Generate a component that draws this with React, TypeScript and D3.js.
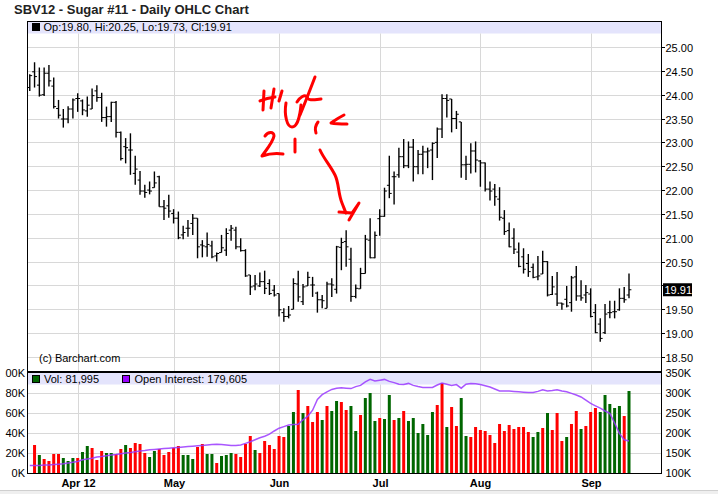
import React, { useEffect, useRef } from 'react';
import * as d3 from 'd3';

// Daily OHLC, SBV12 (Mar 19 - Sep 14, 2012), one entry per trading day
const opens = [
  24.15, 24.48, 24.20, 24.00, 24.45, 24.18, 23.71, 23.49, 23.49, 23.70,
  23.92, 23.87, 23.66, 23.70, 24.08, 23.94, 23.52, 23.54, 23.84, 23.21,
  22.91, 22.84, 22.35, 22.21, 21.98, 22.00, 22.05, 22.28, 21.65, 21.67,
  21.51, 21.41, 21.06, 21.20, 21.30, 21.41, 20.85, 20.81, 20.83, 20.62,
  20.69, 20.74, 21.16, 21.16, 20.81, 20.73, 20.22, 19.99, 19.99, 20.08,
  20.04, 19.90, 19.83, 19.43, 19.35, 19.50, 20.03, 19.66, 19.99, 20.01,
  19.84, 19.70, 19.52, 20.03, 19.92, 20.80, 20.92, 20.55, 19.77, 19.93,
  20.25, 20.95, 20.58, 21.40, 21.45, 22.10, 22.28, 22.32, 22.70, 22.51,
  22.90, 22.49, 22.75, 22.80, 22.84, 23.00, 23.28, 23.92, 23.91, 23.50,
  23.43, 22.53, 22.54, 22.82, 22.61, 22.57, 22.02, 22.02, 21.81, 21.41,
  21.15, 20.99, 20.70, 20.60, 20.46, 20.38, 20.18, 20.24, 20.50, 19.81,
  19.82, 19.63, 19.71, 19.64, 20.18, 19.78, 19.80, 19.82, 19.43, 19.19,
  19.01, 19.43, 19.45, 19.49, 19.73, 19.80,
];
const highs = [
  24.43, 24.68, 24.57, 24.57, 24.62, 24.36, 23.89, 23.70, 23.76, 23.92,
  24.03, 23.90, 23.96, 24.13, 24.20, 24.04, 23.75, 23.85, 23.87, 23.23,
  23.09, 23.19, 22.72, 22.40, 22.11, 22.18, 22.39, 22.30, 21.79, 21.90,
  21.60, 21.55, 21.25, 21.37, 21.50, 21.41, 20.95, 21.11, 20.94, 20.69,
  21.06, 21.20, 21.27, 21.23, 20.99, 20.76, 20.22, 20.22, 20.27, 20.31,
  20.13, 20.01, 19.83, 19.52, 19.57, 20.15, 20.31, 20.03, 20.29, 20.18,
  19.87, 19.80, 20.08, 20.15, 20.83, 21.00, 21.16, 20.79, 20.02, 20.37,
  21.06, 21.41, 21.13, 21.60, 22.05, 22.72, 22.39, 22.89, 23.07, 23.02,
  23.07, 22.84, 22.93, 22.89, 23.00, 23.31, 24.01, 24.01, 23.91, 23.66,
  23.43, 22.72, 22.98, 23.02, 22.63, 22.58, 22.18, 22.13, 22.06, 21.58,
  21.32, 21.20, 20.90, 20.78, 20.66, 20.46, 20.62, 20.73, 20.51, 20.20,
  20.28, 19.64, 19.99, 20.20, 20.41, 20.11, 20.01, 19.94, 19.61, 19.31,
  19.61, 19.68, 19.68, 19.94, 19.97, 20.25,
];
const lows = [
  24.08, 24.15, 23.96, 23.97, 24.17, 23.71, 23.50, 23.31, 23.40, 23.50,
  23.64, 23.57, 23.54, 23.70, 23.85, 23.43, 23.33, 23.43, 23.10, 22.62,
  22.56, 22.32, 22.11, 21.90, 21.84, 21.91, 22.05, 21.65, 21.37, 21.42,
  21.30, 20.97, 20.97, 21.02, 21.06, 20.57, 20.59, 20.60, 20.57, 20.50,
  20.69, 20.62, 20.94, 20.76, 20.71, 20.18, 19.80, 19.90, 19.97, 19.82,
  19.80, 19.77, 19.35, 19.24, 19.31, 19.50, 19.66, 19.59, 19.99, 19.76,
  19.43, 19.52, 19.52, 19.76, 19.83, 20.32, 20.39, 19.66, 19.73, 19.93,
  20.25, 20.57, 20.57, 21.04, 21.44, 21.83, 21.70, 22.26, 22.46, 22.46,
  22.18, 22.33, 22.33, 22.46, 22.21, 22.67, 23.09, 23.52, 23.21, 23.28,
  22.26, 22.21, 22.35, 22.37, 22.07, 21.97, 21.78, 21.67, 21.36, 21.06,
  20.80, 20.66, 20.38, 20.25, 20.18, 20.15, 20.11, 20.24, 19.77, 19.80,
  19.57, 19.49, 19.54, 19.45, 19.68, 19.68, 19.63, 19.33, 19.00, 18.82,
  18.98, 19.31, 19.31, 19.47, 19.64, 19.73,
];
const closes = [
  24.40, 24.38, 23.99, 24.45, 24.29, 23.75, 23.57, 23.49, 23.70, 23.89,
  23.92, 23.68, 23.78, 23.98, 23.94, 23.52, 23.54, 23.84, 23.21, 22.66,
  22.89, 22.84, 22.44, 21.98, 21.95, 21.98, 22.15, 21.65, 21.62, 21.56,
  21.41, 21.00, 21.11, 21.20, 21.41, 20.81, 20.83, 20.86, 20.60, 20.67,
  20.79, 21.09, 21.20, 20.81, 20.73, 20.20, 19.97, 20.03, 20.08, 19.94,
  19.83, 19.80, 19.49, 19.35, 19.38, 20.04, 19.76, 19.97, 20.17, 20.01,
  19.70, 19.68, 20.03, 20.01, 20.81, 20.90, 20.81, 19.77, 19.94, 20.25,
  20.97, 20.58, 21.05, 21.45, 21.98, 21.93, 22.28, 22.70, 22.51, 22.90,
  22.49, 22.75, 22.80, 22.82, 22.98, 23.28, 23.92, 23.88, 23.50, 23.59,
  22.53, 22.54, 22.82, 22.63, 22.57, 22.02, 21.98, 21.86, 21.43, 21.13,
  20.81, 20.76, 20.40, 20.34, 20.29, 20.17, 20.20, 20.50, 19.80, 19.97,
  19.63, 19.61, 19.57, 20.16, 19.78, 19.74, 19.85, 19.35, 19.01, 18.89,
  19.40, 19.43, 19.45, 19.73, 19.70, 19.91,
];

// volume in thousands (first day has no bar), 'u' = green, 'd' = red
const volumes = [
  0, 28, 18, 14, 12, 19, 19, 15, 12, 15,
  15, 21, 27, 25, 13, 22, 20, 20, 19, 24,
  28, 25, 30, 29, 20, 16, 22, 24, 18, 21,
  25, 27, 18, 18, 14, 26, 29, 19, 19, 10,
  17, 18, 20, 19, 16, 29, 37, 23, 20, 32,
  28, 24, 37, 36, 47, 61, 83, 60, 67, 51,
  61, 53, 67, 62, 72, 71, 63, 67, 42, 58,
  75, 80, 52, 55, 54, 78, 53, 55, 62, 52,
  55, 40, 49, 38, 61, 68, 90, 46, 66, 47,
  75, 37, 36, 46, 43, 42, 38, 30, 49, 42,
  48, 44, 46, 46, 41, 36, 41, 45, 60, 43,
  60, 32, 36, 49, 62, 44, 47, 61, 65, 61,
  78, 69, 65, 67, 57, 82,
];
const volDirs = (
  'ddudddduuu' + 'duuddduudd' + 'udddduuddd' + 'dduuudduud' +
  'uuuddddud' + 'ddddduudu' + 'ddduduuddu' + 'uduuuduudu' +
  'duuuuuudd' + 'udduudddddd' + 'ddddddduud' + 'uddduddudd' +
  'duuuuudu'
).split('');

// open interest in thousands
const openInterest = [
  119, 119, 119, 120, 120, 121, 122, 123, 125, 127,
  129, 133, 135, 137, 140, 141, 143, 145, 146, 148,
  150, 151, 153, 155, 156, 158, 159, 160, 161, 162,
  163, 164, 165, 166, 167, 168, 169, 170, 171, 172,
  171, 170, 169, 169, 170, 174, 178, 183, 188, 192,
  197, 205, 212, 216, 220, 221, 222, 233, 242, 257,
  284, 296, 303, 309, 312, 313, 312, 311, 316, 319,
  328, 334, 330, 332, 334, 329, 326, 322, 321, 324,
  319, 316, 314, 314, 314, 320, 325, 322, 319, 321,
  312, 322, 324, 323, 321, 318, 315, 310, 305, 305,
  305, 304, 303, 302, 301, 301, 304, 308, 305, 306,
  308, 305, 303, 299, 295, 290, 282, 274, 268, 262,
  255, 249, 225, 199, 183, 180,
];

const monthIdx = [10, 30, 52, 73, 94, 117];
const monthLabels = ['Apr 12', 'May', 'Jun', 'Jul', 'Aug', 'Sep'];
const priceTicks = [18.5, 19, 19.5, 20, 20.5, 21, 21.5, 22, 22.5, 23, 23.5, 24, 24.5, 25];
const volTicks = [0, 20, 40, 60, 80, 100];
const oiTicks = [100, 150, 200, 250, 300, 350];

const FONT = '"Liberation Sans", Arial, sans-serif';

const App: React.FC = () => {
  const ref = useRef<SVGSVGElement>(null);

  useEffect(() => {
    if (!ref.current) return;
    const svg = d3.select(ref.current);
    svg.selectAll('*').remove();

    const W = 718, H = 494;
    const left = 27, right = 661;
    const priceTop = 21, sep = 372, volBottom = 473;

    const x = d3.scaleLinear().domain([0, closes.length - 1]).range([29.76, 629.0]);
    const yP = d3.scaleLinear().domain([18.5, 25]).range([357, 47]);
    const yV = d3.scaleLinear().domain([0, 100]).range([volBottom, 373]);
    const yOI = d3.scaleLinear().domain([100, 350]).range([volBottom, 373]);

    svg.append('rect').attr('width', W).attr('height', H).attr('fill', '#fff');

    // left labels are cut by the window edge in the original
    svg.append('clipPath').attr('id', 'leftClip')
      .append('rect').attr('x', 5).attr('y', 0).attr('width', 30).attr('height', H);

    // title
    svg.append('text')
      .attr('x', 14).attr('y', 14)
      .attr('font-family', FONT).attr('font-size', 13).attr('font-weight', 'bold')
      .attr('fill', '#222')
      .text('SBV12 - Sugar #11 - Daily OHLC Chart');

    // legend strips
    svg.append('rect').attr('x', left).attr('y', priceTop).attr('width', right - left).attr('height', 12.5)
      .attr('fill', '#e4e4fc');
    svg.append('rect').attr('x', left).attr('y', sep + 1).attr('width', right - left).attr('height', 11.5)
      .attr('fill', '#e4e4fc');

    // grid
    const grid = svg.append('g').attr('stroke', '#d8d8d8').attr('stroke-width', 1);
    priceTicks.forEach(t => {
      const y = Math.round(yP(t)) + 0.5;
      grid.append('line').attr('x1', left).attr('x2', right).attr('y1', y).attr('y2', y);
    });
    volTicks.slice(1, 5).forEach(t => {
      const y = Math.round(yV(t)) + 0.5;
      grid.append('line').attr('x1', left).attr('x2', right).attr('y1', y).attr('y2', y);
    });
    monthIdx.forEach(i => {
      const xx = Math.round(x(i)) + 0.5;
      grid.append('line').attr('x1', xx).attr('x2', xx).attr('y1', priceTop + 12.5).attr('y2', sep - 1);
      grid.append('line').attr('x1', xx).attr('x2', xx).attr('y1', sep + 12.5).attr('y2', volBottom);
    });

    // OHLC bars
    const bars = svg.append('g').attr('stroke', '#000').attr('stroke-width', 1.4);
    closes.forEach((c, i) => {
      const xx = x(i);
      bars.append('line').attr('x1', xx).attr('x2', xx).attr('y1', yP(highs[i])).attr('y2', yP(lows[i]));
      bars.append('line').attr('x1', xx - 2.4).attr('x2', xx).attr('y1', yP(opens[i])).attr('y2', yP(opens[i]))
        .attr('stroke-width', 1);
      bars.append('line').attr('x1', xx).attr('x2', xx + 2.4).attr('y1', yP(c)).attr('y2', yP(c))
        .attr('stroke-width', 1);
    });

    // volume bars
    svg.append('g').selectAll('rect')
      .data(volumes.map((v, i) => ({ v, i })).filter(d => d.v > 0))
      .enter().append('rect')
      .attr('x', d => x(d.i) - 1.5)
      .attr('width', 3)
      .attr('y', d => yV(d.v))
      .attr('height', d => volBottom - yV(d.v))
      .attr('fill', d => (volDirs[d.i] === 'u' ? '#006600' : '#ff0000'));

    // open interest line
    const oiLine = d3.line<number>().x((_, i) => x(i)).y(d => yOI(d));
    svg.append('path').datum(openInterest)
      .attr('d', oiLine)
      .attr('fill', 'none')
      .attr('stroke', '#9a38ff')
      .attr('stroke-opacity', 0.85)
      .attr('stroke-width', 1.5);

    // frame
    svg.append('rect').attr('x', left + 0.5).attr('y', priceTop + 0.5)
      .attr('width', right - left).attr('height', volBottom - priceTop)
      .attr('fill', 'none').attr('stroke', '#000');
    svg.append('line').attr('x1', left).attr('x2', right + 1).attr('y1', sep).attr('y2', sep)
      .attr('stroke', '#000').attr('stroke-width', 2);

    // right price axis (the label under the last-price box is hidden, as in the original)
    const lastClose = closes[closes.length - 1];
    const yl = yP(lastClose);
    const ax = svg.append('g').attr('font-family', FONT).attr('font-size', 11).attr('fill', '#000');
    priceTicks.forEach(t => {
      const y = Math.round(yP(t)) + 0.5;
      ax.append('line').attr('x1', right).attr('x2', right + 4).attr('y1', y).attr('y2', y).attr('stroke', '#000');
      if (Math.abs(y - yl) > 10) {
        ax.append('text').attr('x', right + 4.5).attr('y', y + 4).text(t.toFixed(2));
      }
    });
    oiTicks.forEach(t => {
      const y = yOI(t);
      ax.append('text').attr('x', right + 4.5).attr('y', y + 4).text(`${t}K`);
    });
    const leftAx = svg.append('g').attr('clip-path', 'url(#leftClip)')
      .attr('font-family', FONT).attr('font-size', 11).attr('fill', '#000');
    volTicks.forEach(t => {
      const y = yV(t);
      leftAx.append('text').attr('x', 25).attr('y', y + 4).attr('text-anchor', 'end').text(`${t}K`);
    });

    // last price marker
    svg.append('rect').attr('x', 663).attr('y', yl - 6.5).attr('width', 29).attr('height', 13).attr('fill', '#000');
    svg.append('text').attr('x', 664.5).attr('y', yl + 4)
      .attr('font-family', FONT).attr('font-size', 11).attr('fill', '#fff')
      .text(lastClose.toFixed(2));

    // month labels
    monthIdx.forEach((i, k) => {
      svg.append('text').attr('x', Math.round(x(i)) + 0.5).attr('y', 487)
        .attr('text-anchor', 'middle')
        .attr('font-family', FONT).attr('font-size', 11).attr('font-weight', 'bold').attr('fill', '#000')
        .text(monthLabels[k]);
    });

    // legends
    const last = closes.length - 1;
    svg.append('rect').attr('x', 32).attr('y', 23).attr('width', 8).attr('height', 8).attr('fill', '#000');
    svg.append('text').attr('x', 43.5).attr('y', 31)
      .attr('font-family', FONT).attr('font-size', 11).attr('fill', '#000')
      .text(`Op:${opens[last].toFixed(2)}, Hi:${highs[last].toFixed(2)}, Lo:${lows[last].toFixed(2)}, Cl:${closes[last].toFixed(2)}`);

    svg.append('rect').attr('x', 32.5).attr('y', 375.5).attr('width', 7).attr('height', 7)
      .attr('fill', '#006600').attr('stroke', '#000');
    svg.append('text').attr('x', 44).attr('y', 383)
      .attr('font-family', FONT).attr('font-size', 11).attr('fill', '#000')
      .text('Vol: 81,995');
    svg.append('rect').attr('x', 122.5).attr('y', 375.5).attr('width', 7).attr('height', 7)
      .attr('fill', '#9900ff').attr('stroke', '#000');
    svg.append('text').attr('x', 134.5).attr('y', 383)
      .attr('font-family', FONT).attr('font-size', 11).attr('fill', '#000')
      .text('Open Interest: 179,605');

    svg.append('text').attr('x', 39).attr('y', 362)
      .attr('font-family', FONT).attr('font-size', 11).attr('fill', '#000')
      .text('(c) Barchart.com');

    // bottom window edge
    svg.append('rect').attr('x', 0).attr('y', 490).attr('width', W).attr('height', 4).attr('fill', '#efefef');
    svg.append('line').attr('x1', 0).attr('x2', W).attr('y1', 490.5).attr('y2', 490.5).attr('stroke', '#cfcfcf');

    // hand-written note, anchored at a day/price position
    const note = svg.append('g')
      .attr('transform', `translate(${x(45.94)},${yP(24.413)})`)
      .attr('fill', 'none').attr('stroke', '#ff0000').attr('stroke-width', 3)
      .attr('stroke-linecap', 'round').attr('stroke-linejoin', 'round');
    [
      'M14,16 L13,35',
      'M10,26 Q17,23 25,22',
      'M24,14 L21,33',
      'M32,16 L29,26',
      'M36,28 C34,40 37,52 42,52 C47,52 50,42 51,30',
      'M65,2 C60,15 55,28 50,40',
      'M47,27 C50,22 55,19 57,22 C58,26 63,25 71,24',
      'M15,61 C18,57 24,56 24,61 C23,67 17,74 12,81 C18,79 26,78 33,79',
      'M45,64 L45,77',
      'M68,47 C65,51 65,55 66,58',
      'M94,40 C88,43 84,46 81,48 C86,49 92,49 97,49',
      'M70,75 C74,84 80,90 85,100 C89,108 88,118 92,128 C94,133 95,136 96,138',
      'M89,137 L102,138 L109,128 L99,145',
    ].forEach(d => note.append('path').attr('d', d));
  }, []);

  return (
    <>
      <style>{'body{margin:0}'}</style>
      <svg ref={ref} width={718} height={494} style={{ display: 'block' }} />
    </>
  );
};

export default App;
